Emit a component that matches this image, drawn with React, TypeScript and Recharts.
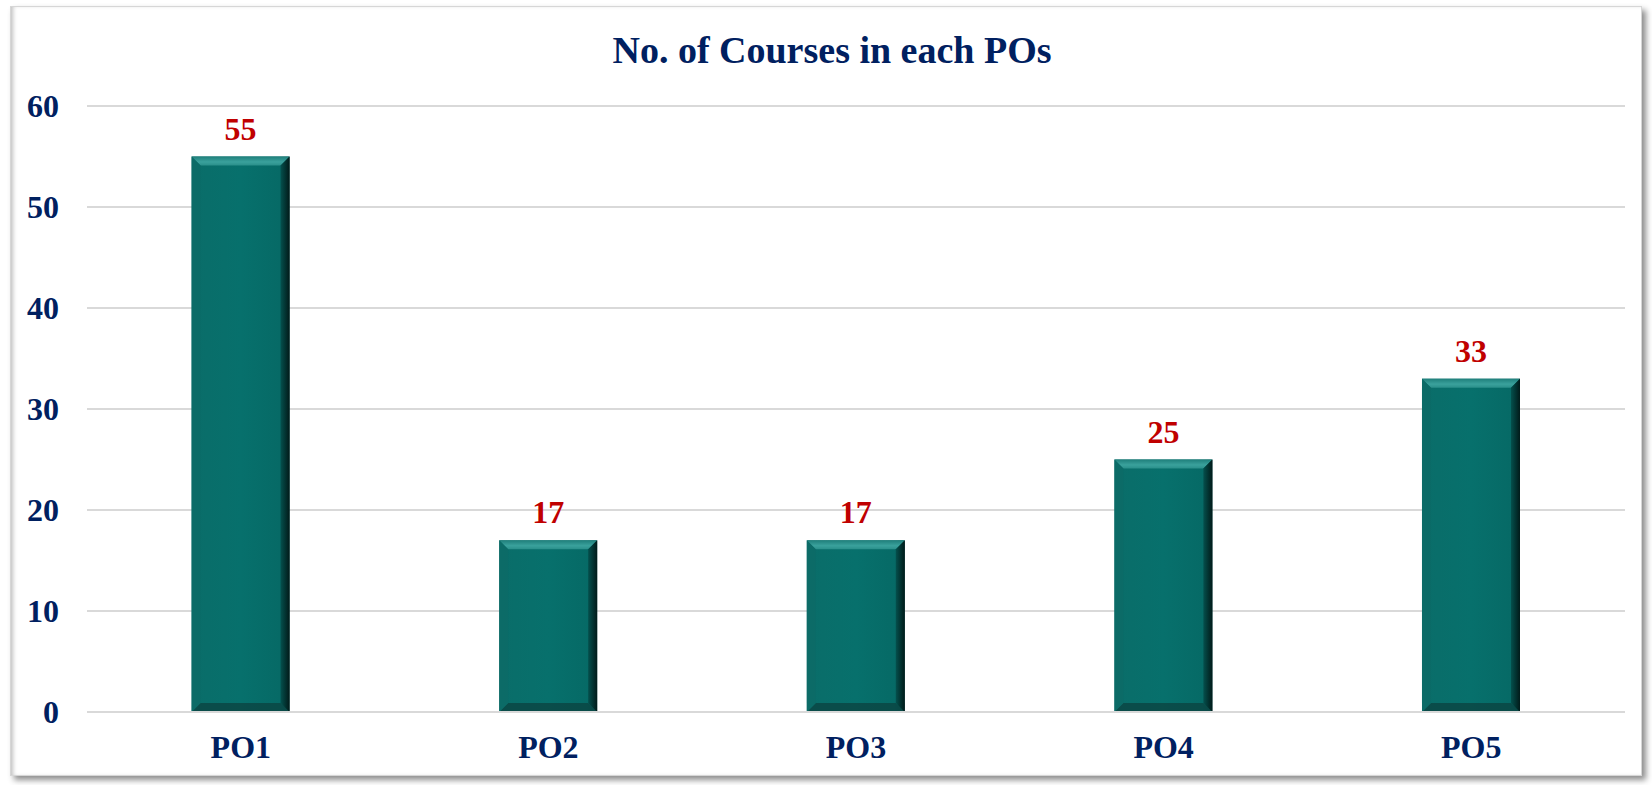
import React from 'react';
import { BarChart, Bar, XAxis, YAxis, CartesianGrid, LabelList } from 'recharts';

const categories = ['PO1', 'PO2', 'PO3', 'PO4', 'PO5'];
const courses = [55, 17, 17, 25, 33];
const yTicks = [0, 10, 20, 30, 40, 50, 60];

const data = categories.map((name, i) => ({ name, courses: courses[i] }));

const NAVY = '#002060';
const FONT = '"Liberation Serif", "Times New Roman", serif';

// bevelled bar like the Excel "soft edge" preset
const BevelBar = (props: any) => {
  const { x, y, width, height } = props;
  if (!height || height <= 0) return null;
  const b = Math.min(9, height / 4);
  return (
    <g>
      <rect x={x} y={y} width={width} height={height} fill="url(#barBody)" />
      <polygon
        points={`${x},${y} ${x + width},${y} ${x + width - b},${y + b} ${x + b},${y + b}`}
        fill="url(#barTop)"
      />
      <polygon
        points={`${x},${y + height} ${x + width},${y + height} ${x + width - b},${y + height - b} ${x + b},${y + height - b}`}
        fill="#0a4644"
        opacity={0.85}
      />
      <polygon
        points={`${x + width},${y} ${x + width},${y + height} ${x + width - b},${y + height - b} ${x + width - b},${y + b}`}
        fill="url(#barRight)"
      />
      <polygon
        points={`${x},${y} ${x},${y + height} ${x + b},${y + height - b} ${x + b},${y + b}`}
        fill="#0c6a66"
        opacity={0.8}
      />
    </g>
  );
};

const YTick = (props: any) => {
  const { y, payload } = props;
  return (
    <text x={59} y={y} dy={11} textAnchor="end" fill={NAVY} fontFamily={FONT} fontWeight="bold" fontSize={32}>
      {payload.value}
    </text>
  );
};

export default function App() {
  return (
    <div style={{ position: 'absolute', left: 0, top: 0, width: 1652, height: 785, background: '#fff' }}>
      <div
        style={{
          position: 'absolute',
          left: 10,
          top: 6,
          width: 1630,
          height: 768,
          border: '1px solid #d6d6d6',
          boxShadow: 'inset 4px 0 4px -2px rgba(0,0,0,0.25), 4px 4px 6px rgba(0,0,0,0.45)',
          background: '#fff',
        }}
      />
      <div
        style={{
          position: 'absolute',
          left: 0,
          top: 28,
          width: 1664,
          textAlign: 'center',
          fontFamily: FONT,
          fontWeight: 'bold',
          fontSize: 38,
          color: NAVY,
        }}
      >
        No. of Courses in each POs
      </div>
      <div style={{ position: 'absolute', left: 0, top: 0 }}>
        <BarChart width={1652} height={785} data={data} margin={{ top: 106, right: 27, bottom: 43, left: 0 }} barCategoryGap="34%">
          <defs>
            <linearGradient id="barBody" x1="0" y1="0" x2="1" y2="0">
              <stop offset="0%" stopColor="#0a6d69" />
              <stop offset="50%" stopColor="#07706c" />
              <stop offset="90%" stopColor="#066a66" />
              <stop offset="100%" stopColor="#044a48" />
            </linearGradient>
            <linearGradient id="barTop" x1="0" y1="0" x2="0" y2="1">
              <stop offset="0%" stopColor="#1f7f7b" />
              <stop offset="60%" stopColor="#3aa19c" />
              <stop offset="100%" stopColor="#2a8f8a" />
            </linearGradient>
            <linearGradient id="barRight" x1="0" y1="0" x2="1" y2="0">
              <stop offset="0%" stopColor="#04504d" />
              <stop offset="100%" stopColor="#011a19" />
            </linearGradient>
          </defs>
          <CartesianGrid vertical={false} stroke="#d9d9d9" strokeWidth={2} />
          <XAxis
            dataKey="name"
            height={30}
            axisLine={{ stroke: '#d9d9d9', strokeWidth: 2 }}
            tickLine={false}
            tickMargin={17}
            tick={{ fill: NAVY, fontFamily: FONT, fontWeight: 'bold', fontSize: 32 }}
          />
          <YAxis
            width={87}
            domain={[0, 60]}
            ticks={yTicks}
            axisLine={false}
            tickLine={false}
            tick={<YTick />}
          />
          <Bar dataKey="courses" shape={<BevelBar />} isAnimationActive={false}>
            <LabelList
              dataKey="courses"
              position="top"
              offset={17}
              fill="#c00000"
              fontFamily={FONT}
              fontWeight="bold"
              fontSize={32}
            />
          </Bar>
        </BarChart>
      </div>
    </div>
  );
}
